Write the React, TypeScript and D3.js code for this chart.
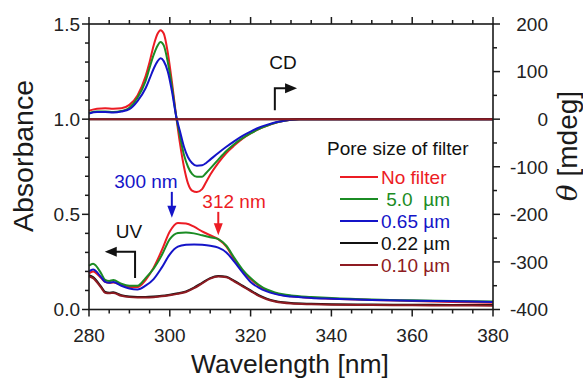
import React from "react";
import * as d3 from "d3";

// UV absorbance spectra (left axis)
const uvWl = [280, 281, 283, 284, 285, 286, 288, 290, 292, 294, 296, 298, 300, 302, 304, 306, 308, 310, 312, 314, 316, 318, 320, 322, 324, 326, 328, 330, 335, 340, 350, 360, 370, 380];
const uvNoFilter = [0.19, 0.2, 0.165, 0.145, 0.14, 0.142, 0.128, 0.118, 0.118, 0.155, 0.22, 0.31, 0.41, 0.455, 0.452, 0.435, 0.41, 0.39, 0.37, 0.33, 0.26, 0.2, 0.16, 0.125, 0.1, 0.085, 0.075, 0.069, 0.062, 0.057, 0.05, 0.045, 0.04, 0.036];
const uv50 = [0.23, 0.24, 0.19, 0.155, 0.15, 0.155, 0.135, 0.125, 0.125, 0.165, 0.215, 0.285, 0.37, 0.402, 0.405, 0.4, 0.39, 0.38, 0.37, 0.335, 0.27, 0.21, 0.165, 0.13, 0.105, 0.09, 0.08, 0.074, 0.066, 0.06, 0.052, 0.048, 0.045, 0.042];
const uv065 = [0.2, 0.21, 0.17, 0.145, 0.14, 0.145, 0.125, 0.11, 0.105, 0.125, 0.16, 0.22, 0.29, 0.33, 0.34, 0.342, 0.34, 0.335, 0.325, 0.3, 0.25, 0.195, 0.145, 0.115, 0.095, 0.082, 0.073, 0.068, 0.061, 0.057, 0.05, 0.046, 0.043, 0.04];
const uv022 = [0.18, 0.17, 0.12, 0.092, 0.088, 0.09, 0.075, 0.068, 0.066, 0.066, 0.068, 0.072, 0.078, 0.085, 0.095, 0.115, 0.14, 0.165, 0.176, 0.172, 0.15, 0.125, 0.1, 0.075, 0.057, 0.045, 0.038, 0.034, 0.03, 0.028, 0.026, 0.025, 0.024, 0.023];
const uv010 = [0.175, 0.165, 0.115, 0.088, 0.085, 0.087, 0.072, 0.065, 0.063, 0.063, 0.065, 0.069, 0.075, 0.082, 0.092, 0.112, 0.137, 0.162, 0.173, 0.169, 0.147, 0.122, 0.097, 0.072, 0.054, 0.042, 0.035, 0.031, 0.027, 0.025, 0.023, 0.022, 0.021, 0.02];

// CD spectra (right axis, mdeg)
const cdWl = [280, 282, 284, 286, 288, 290, 292, 294, 295, 296, 297, 297.7, 298.5, 299.5, 300.5, 301.6, 302.5, 303.5, 304.5, 305.5, 306.7, 308, 309, 310, 312, 314, 316, 318, 320, 322, 324, 326, 328, 330, 332, 340, 360, 380];
const cdNoFilter = [18, 22, 23, 22, 23, 30, 50, 90, 120, 155, 180, 187, 180, 140, 80, 5, -50, -100, -135, -150, -153, -147, -132, -117, -92, -71, -55, -41, -30, -21, -14, -8, -4, -1, 0, 0, 0, 0];
const cd50 = [13, 16, 16, 15, 17, 24, 45, 80, 108, 135, 155, 162, 155, 120, 70, 5, -35, -75, -100, -115, -121, -121, -113, -104, -85, -67, -52, -40, -30, -21, -14, -8, -4, -1, 0, 0, 0, 0];
const cd065 = [12, 15, 15, 14, 16, 21, 38, 65, 85, 106, 122, 128, 122, 100, 60, 5, -25, -58, -80, -92, -98, -97, -92, -85, -71, -58, -46, -35, -26, -18, -12, -7, -4, -1, 0, 0, 0, 0];
const cdFlatWl = [280, 300, 320, 340, 360, 380];
const cd022 = [0, 0, 0, 0, 0, 0];
const cd010 = [0, 0, 0, 0, 0, 0];

const legendLabels = ["No filter", "\u00a05.0  \u00b5m", "0.65 \u00b5m", "0.22 \u00b5m", "0.10 \u00b5m"];
const colors = ["#ec1c24", "#1b8c24", "#1414c8", "#111111", "#8e1b22"];

const xTickLabels = [280, 300, 320, 340, 360, 380];
const leftTickLabels = [0, 0.5, 1, 1.5];
const rightTickLabels = [-400, -300, -200, -100, 0, 100, 200];

const font = "'Liberation Sans', Arial, Helvetica, sans-serif";

export default function App() {
  const width = 583;
  const height = 379;
  const left = 89, right = 493, top = 24, bottom = 309.5;

  const x = d3.scaleLinear().domain([280, 380]).range([left, right]);
  const yA = d3.scaleLinear().domain([0, 1.5]).range([bottom, top]);
  const yCD = d3.scaleLinear().domain([-400, 200]).range([bottom, top]);

  const makeLine = (wl: number[], vals: number[], y: d3.ScaleLinear<number, number>) =>
    d3
      .line<number>()
      .x((_, i) => x(wl[i]))
      .y((d) => y(d))
      .curve(d3.curveMonotoneX)(vals) as string;

  const uvSeries = [uvNoFilter, uv50, uv065, uv022, uv010];
  const cdSeries = [
    { wl: cdWl, v: cdNoFilter },
    { wl: cdWl, v: cd50 },
    { wl: cdWl, v: cd065 },
    { wl: cdFlatWl, v: cd022 },
    { wl: cdFlatWl, v: cd010 },
  ];
  // draw dark curves first for UV, coloured first for CD
  const uvOrder = [3, 4, 0, 1, 2];
  const cdOrder = [0, 1, 2, 3, 4];

  const xTicks = d3.range(280, 381, 5);
  const aTicks = d3.range(0, 15.1, 1).map((d) => d / 10);
  const cdTicks = d3.range(-400, 201, 50);

  const axisColor = "#1a1a1a";
  const major = 7, minor = 4;

  const arrowHead = (tx: number, ty: number, dir: "left" | "right" | "down", len = 12, half = 5) => {
    if (dir === "right") return `M${tx},${ty} L${tx - len},${ty - half} L${tx - len},${ty + half} Z`;
    if (dir === "left") return `M${tx},${ty} L${tx + len},${ty - half} L${tx + len},${ty + half} Z`;
    return `M${tx},${ty} L${tx - half},${ty - len} L${tx + half},${ty - len} Z`;
  };

  // annotation anchors in data units
  const cdArrow = { wl: 326, from: 19, to: 65, tip: 331.5 };
  const uvArrow = { wl: 291.4, from: 0.166, to: 0.304, tip: 283.9 };
  const pk300 = { wl: 300.5, from: 0.618, to: 0.482 };
  const pk312 = { wl: 312, from: 0.513, to: 0.39 };

  return (
    <svg width={width} height={height} style={{ position: "absolute", left: 0, top: 0, background: "#fff" }} fontFamily={font}>
      <rect width={width} height={height} fill="#fff" />

      {/* curves */}
      <g fill="none" strokeWidth={2} strokeLinejoin="round">
        {uvOrder.map((i) => (
          <path key={"uv" + i} d={makeLine(uvWl, uvSeries[i], yA)} stroke={colors[i]} />
        ))}
        {cdOrder.map((i) => (
          <path key={"cd" + i} d={makeLine(cdSeries[i].wl, cdSeries[i].v, yCD)} stroke={colors[i]} />
        ))}
      </g>

      {/* frame */}
      <rect x={left} y={top} width={right - left} height={bottom - top} fill="none" stroke={axisColor} strokeWidth={1.6} />

      {/* x ticks bottom + top */}
      {xTicks.map((t) => {
        const len = t % 20 === 0 ? major : minor;
        return (
          <g key={"xt" + t} stroke={axisColor} strokeWidth={1.5}>
            <line x1={x(t)} x2={x(t)} y1={bottom} y2={bottom + len} />
            <line x1={x(t)} x2={x(t)} y1={top} y2={top - len} />
          </g>
        );
      })}
      {xTickLabels.map((t) => (
        <text key={"xl" + t} x={x(t)} y={342} textAnchor="middle" fontSize={19} fill="#222">
          {t}
        </text>
      ))}

      {/* left ticks */}
      {aTicks.map((t) => {
        const isMajor = Math.abs((t * 10) % 5) < 1e-6;
        return (
          <line key={"at" + t} x1={left} x2={left - (isMajor ? major : minor)} y1={yA(t)} y2={yA(t)} stroke={axisColor} strokeWidth={1.5} />
        );
      })}
      {leftTickLabels.map((t) => (
        <text key={"al" + t} x={80} y={yA(t)} dy="0.36em" textAnchor="end" fontSize={19} fill="#222">
          {t.toFixed(1)}
        </text>
      ))}

      {/* right ticks */}
      {cdTicks.map((t) => (
        <line key={"ct" + t} x1={right} x2={right + (t % 100 === 0 ? major : minor)} y1={yCD(t)} y2={yCD(t)} stroke={axisColor} strokeWidth={1.5} />
      ))}
      {rightTickLabels.map((t) => (
        <text key={"cl" + t} x={548} y={yCD(t)} dy="0.36em" textAnchor="end" fontSize={19} fill="#222">
          {t}
        </text>
      ))}

      {/* axis titles */}
      <text x={(left + right) / 2 - 1} y={373} textAnchor="middle" fontSize={26.5} fill="#1a1a1a">
        Wavelength [nm]
      </text>
      <text transform="translate(33,156) rotate(-90)" textAnchor="middle" fontSize={28.5} fill="#1a1a1a">
        Absorbance
      </text>
      <text transform="translate(577,146) rotate(-90)" textAnchor="middle" fontSize={28} fill="#1a1a1a">
        <tspan fontStyle="italic" fontFamily="'DejaVu Serif', 'Liberation Serif', serif">θ</tspan>
        <tspan> [mdeg]</tspan>
      </text>

      {/* CD annotation */}
      <text x={x(328)} y={yCD(119.5)} dy="0.36em" textAnchor="middle" fontSize={19} fill="#111">
        CD
      </text>
      <polyline
        points={`${x(cdArrow.wl)},${yCD(cdArrow.from)} ${x(cdArrow.wl)},${yCD(cdArrow.to)} ${x(cdArrow.tip) - 10},${yCD(cdArrow.to)}`}
        fill="none"
        stroke="#111"
        strokeWidth={2}
      />
      <path d={arrowHead(x(cdArrow.tip), yCD(cdArrow.to), "right")} fill="#111" />

      {/* UV annotation */}
      <text x={x(289.9)} y={yA(0.413)} dy="0.36em" textAnchor="middle" fontSize={19} fill="#111">
        UV
      </text>
      <polyline
        points={`${x(uvArrow.wl)},${yA(uvArrow.from)} ${x(uvArrow.wl)},${yA(uvArrow.to)} ${x(uvArrow.tip) + 10},${yA(uvArrow.to)}`}
        fill="none"
        stroke="#111"
        strokeWidth={2}
      />
      <path d={arrowHead(x(uvArrow.tip), yA(uvArrow.to), "left")} fill="#111" />

      {/* peak markers */}
      <text x={x(294.1)} y={yA(0.676)} dy="0.36em" textAnchor="middle" fontSize={19} fill={colors[2]}>
        300 nm
      </text>
      <line x1={x(pk300.wl)} x2={x(pk300.wl)} y1={yA(pk300.from)} y2={yA(pk300.to) - 8} stroke={colors[2]} strokeWidth={2} />
      <path d={arrowHead(x(pk300.wl), yA(pk300.to), "down", 12, 4.5)} fill={colors[2]} />

      <text x={x(315.9)} y={yA(0.571)} dy="0.36em" textAnchor="middle" fontSize={19} fill={colors[0]}>
        312 nm
      </text>
      <line x1={x(pk312.wl)} x2={x(pk312.wl)} y1={yA(pk312.from)} y2={yA(pk312.to) - 8} stroke={colors[0]} strokeWidth={2} />
      <path d={arrowHead(x(pk312.wl), yA(pk312.to), "down", 12, 4.5)} fill={colors[0]} />

      {/* legend */}
      <text x={327} y={148} dy="0.36em" fontSize={19} fill="#111">
        Pore size of filter
      </text>
      {legendLabels.map((lab, i) => {
        const ly = 177 + i * 22;
        return (
          <g key={"lg" + i}>
            <line x1={340} x2={378} y1={ly} y2={ly} stroke={colors[i]} strokeWidth={2} />
            <text x={381} y={ly} dy="0.36em" fontSize={19} fill={colors[i]} style={{ whiteSpace: "pre" }}>
              {lab}
            </text>
          </g>
        );
      })}
    </svg>
  );
}
